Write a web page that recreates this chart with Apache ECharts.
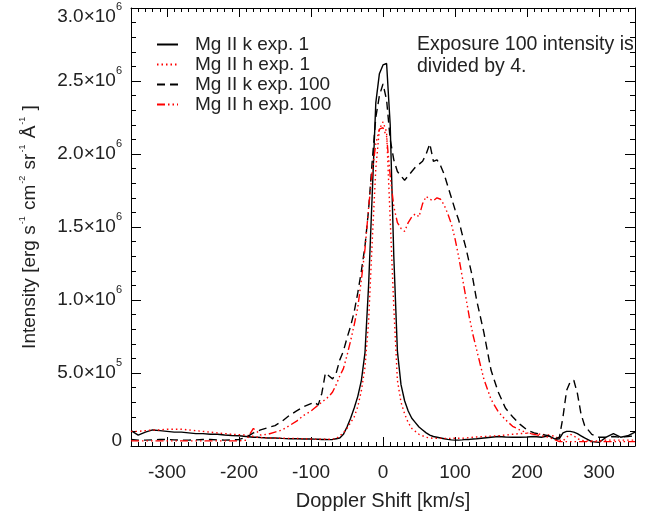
<!DOCTYPE html>
<html>
<head>
<meta charset="utf-8">
<script src="https://cdn.jsdelivr.net/npm/echarts@6/dist/echarts.min.js"></script>
<style>html,body{margin:0;padding:0;background:#fff}#c{width:651px;height:515px}</style>
</head>
<body>
<div id="c"></div>
<script>
// Doppler shift grid (km/s)
var shift = [-350,-340,-330,-320,-310,-300,-290,-280,-270,-260,-250,-240,-230,-220,-210,-200,-190,-180,-175,-170,-160,-150,-140,-130,-120,-110,-100,-95,-90,-85,-80,-75,-70,-65,-60,-55,-50,-45,-40,-35,-30,-25,-20,-15,-10,-5,0,5,10,15,20,25,30,35,40,45,50,55,60,65,70,75,80,85,90,95,100,105,110,115,120,125,130,140,150,160,170,180,190,200,210,220,230,240,245,250,255,260,265,270,275,280,290,300,310,320,330,340,350];

// Intensities in units of 10^6 erg s^-1 cm^-2 sr^-1 A^-1
var mgKexp1 = [0.105,0.075,0.095,0.11,0.105,0.10,0.095,0.095,0.09,0.085,0.085,0.08,0.08,0.075,0.072,0.07,0.065,0.06,0.06,0.058,0.055,0.055,0.052,0.05,0.05,0.048,0.048,0.047,0.046,0.045,0.045,0.044,0.045,0.05,0.055,0.08,0.13,0.19,0.26,0.34,0.45,0.64,1.10,1.72,2.35,2.55,2.61,2.62,2.20,1.30,0.65,0.42,0.31,0.24,0.19,0.16,0.13,0.11,0.09,0.075,0.065,0.06,0.055,0.05,0.045,0.042,0.04,0.04,0.042,0.045,0.045,0.048,0.05,0.055,0.06,0.065,0.062,0.06,0.06,0.062,0.065,0.06,0.07,0.045,0.05,0.09,0.10,0.10,0.095,0.085,0.07,0.055,0.03,0.025,0.06,0.085,0.06,0.07,0.095];

var mgHexp1 = [0.10,0.10,0.105,0.11,0.11,0.115,0.115,0.115,0.11,0.105,0.10,0.095,0.09,0.085,0.08,0.078,0.075,0.065,0.06,0.058,0.055,0.055,0.053,0.052,0.052,0.05,0.048,0.047,0.046,0.046,0.046,0.046,0.047,0.05,0.07,0.09,0.12,0.16,0.20,0.27,0.38,0.54,0.85,1.40,1.90,2.17,2.22,2.15,1.55,0.95,0.45,0.30,0.22,0.16,0.12,0.10,0.08,0.07,0.06,0.055,0.053,0.052,0.052,0.052,0.052,0.052,0.053,0.053,0.053,0.055,0.058,0.06,0.062,0.065,0.068,0.07,0.075,0.08,0.085,0.087,0.085,0.08,0.075,0.065,0.04,0.035,0.06,0.08,0.07,0.05,0.04,0.035,0.035,0.035,0.04,0.04,0.04,0.04,0.04];

var mgKexp100 = [0.045,0.04,0.04,0.042,0.045,0.045,0.042,0.04,0.04,0.042,0.045,0.045,0.042,0.04,0.042,0.045,0.06,0.09,0.10,0.11,0.125,0.14,0.17,0.21,0.24,0.27,0.29,0.30,0.28,0.36,0.50,0.48,0.46,0.50,0.59,0.65,0.74,0.82,0.92,1.05,1.20,1.37,1.62,1.95,2.25,2.40,2.48,2.37,2.10,1.96,1.88,1.85,1.82,1.85,1.88,1.91,1.93,1.95,2.00,2.07,1.95,1.96,1.92,1.86,1.78,1.70,1.62,1.55,1.45,1.36,1.25,1.14,1.00,0.78,0.52,0.37,0.26,0.20,0.15,0.11,0.09,0.08,0.07,0.05,0.06,0.20,0.38,0.44,0.45,0.36,0.22,0.14,0.08,0.06,0.06,0.065,0.06,0.065,0.07];

var mgHexp100 = [0.035,0.035,0.035,0.035,0.035,0.035,0.035,0.035,0.035,0.035,0.035,0.035,0.035,0.035,0.035,0.035,0.04,0.12,0.10,0.075,0.08,0.095,0.11,0.14,0.17,0.21,0.24,0.26,0.28,0.30,0.32,0.34,0.37,0.42,0.48,0.53,0.62,0.72,0.83,0.95,1.14,1.35,1.63,1.88,2.07,2.17,2.18,2.12,1.85,1.64,1.53,1.49,1.47,1.53,1.57,1.59,1.57,1.66,1.71,1.69,1.68,1.70,1.69,1.65,1.59,1.52,1.42,1.30,1.16,1.02,0.88,0.76,0.66,0.46,0.32,0.235,0.18,0.135,0.11,0.09,0.08,0.07,0.06,0.04,0.03,0.03,0.03,0.03,0.03,0.03,0.03,0.03,0.03,0.03,0.03,0.03,0.03,0.03,0.03];

var seriesNames = ['Mg II k exp. 1', 'Mg II h exp. 1', 'Mg II k exp. 100', 'Mg II h exp. 100'];
var xMajorTicks = [-300,-200,-100,0,100,200,300];
var xMinorTicks = [-350,-340,-330,-320,-310,-300,-290,-280,-270,-260,-250,-240,-230,-220,-210,-200,-190,-180,-170,-160,-150,-140,-130,-120,-110,-100,-90,-80,-70,-60,-50,-40,-30,-20,-10,0,10,20,30,40,50,60,70,80,90,100,110,120,130,140,150,160,170,180,190,200,210,220,230,240,250,260,270,280,290,300,310,320,330,340,350];
var annotation = 'Exposure 100 intensity is\ndivided by 4.';

var FONT = 'Liberation Sans';
var TXT = '#222';

function pairs(v){ return shift.map(function(x,i){ return [x, v[i]]; }); }

function yFmt(v){
  if (v === 0) return '{z|0}';
  var top = Math.abs(v - 3) < 1e-9;
  var b = top ? 'bT' : 'b', s = top ? 'sT' : 's';
  if (v >= 1) return '{' + b + '|' + v.toFixed(1) + '×10}{' + s + '|6}';
  return '{' + b + '|' + (v*10).toFixed(1) + '×10}{' + s + '|5}';
}

var lineBase = {show:true, onZero:false, lineStyle:{color:'#000', width:1}};
function xAx(pos, ticks, len, opts){
  var a = {
    type:'value', position:pos, min:-350, max:350, gridIndex:0,
    axisLine: opts.line ? lineBase : {show:false, onZero:false},
    axisTick:{show:true, inside:true, length:len, customValues:ticks, lineStyle:{color:'#000', width:1}},
    axisLabel:{show:false},
    splitLine:{show:false}
  };
  if (opts.labels){
    a.axisLabel = {show:true, customValues:xMajorTicks, color:TXT, fontSize:19, fontFamily:FONT, margin:17};
    a.name = 'Doppler Shift [km/s]';
    a.nameLocation = 'middle';
    a.nameGap = 45;
    a.nameTextStyle = {color:TXT, fontSize:20, fontFamily:FONT};
  }
  return a;
}
function tok(size, lh, pad){
  return {color:TXT, fontFamily:FONT, fontSize:size, lineHeight:lh, padding:pad, verticalAlign:'middle'};
}
function yAx(pos, labels){
  var a = {
    type:'value', position:pos, min:0, max:3, interval:0.5,
    axisLine: lineBase,
    axisTick:{show:true, inside:true, length:10, lineStyle:{color:'#000'}},
    minorTick:{show:true, splitNumber:5, length:5, lineStyle:{color:'#000'}},
    axisLabel:{show:false},
    splitLine:{show:false}, minorSplitLine:{show:false}
  };
  if (labels){
    a.axisLabel = {show:true, margin:9, formatter:yFmt, verticalAlign:'middle',
      rich:{
        b: tok(19, 20, [0,0,0,0]),
        s: tok(11, 12, [0,0,21,0]),
        bT: tok(19, 20, [18,0,0,0]),
        sT: tok(11, 12, [0,0,3,0]),
        z: tok(19, 20, [0,0,10,0])
      }};
    a.name = '{t|Intensity [erg s}{s|-1}{t| cm}{s|-2}{t| sr}{s|-1}{t| Å}{s|-1}{t| ]}';
    a.nameLocation = 'middle';
    a.nameGap = 90;
    a.nameTextStyle = {rich:{ t:{color:TXT, fontSize:19, fontFamily:FONT}, s:{color:TXT, fontSize:9, fontFamily:FONT, padding:[0,1,14,1]} }};
  }
  return a;
}

var chart = echarts.init(document.getElementById('c'), null, {renderer:'canvas'});
chart.setOption({
  animation:false,
  backgroundColor:'#fff',
  grid:{left:131, right:16, top:8, bottom:69, containLabel:false, outerBoundsMode:'none'},
  legend:{
    orient:'vertical', left:156, top:35, padding:0, itemWidth:21, itemHeight:14, itemGap:1,
    itemStyle:{opacity:0},
    textStyle:{color:TXT, fontSize:19, fontFamily:FONT, lineHeight:18, padding:[0,0,0,12]},
    data:seriesNames
  },
  graphic:[{type:'text', left:417, top:34, style:{text:annotation, fill:TXT, font:'19.5px "Liberation Sans"', lineHeight:22}}],
  xAxis:[
    xAx('bottom', xMajorTicks, 9, {line:true, labels:true}),
    xAx('bottom', xMinorTicks, 4, {}),
    xAx('top', xMajorTicks, 9, {line:true}),
    xAx('top', xMinorTicks, 4, {})
  ],
  yAxis:[ yAx('left', true), yAx('right', false) ],
  series:[
    {name:seriesNames[0], type:'line', data:pairs(mgKexp1), symbol:'none', xAxisIndex:0, yAxisIndex:0,
     lineStyle:{color:'#000', width:1.4, type:'solid'}, itemStyle:{color:'#000'}},
    {name:seriesNames[1], type:'line', data:pairs(mgHexp1), symbol:'none', xAxisIndex:0, yAxisIndex:0,
     lineStyle:{color:'#ff0000', width:1.4, type:[1.5,3]}, itemStyle:{color:'#ff0000'}},
    {name:seriesNames[2], type:'line', data:pairs(mgKexp100), symbol:'none', xAxisIndex:0, yAxisIndex:0,
     lineStyle:{color:'#000', width:1.4, type:[8,5]}, itemStyle:{color:'#000'}},
    {name:seriesNames[3], type:'line', data:pairs(mgHexp100), symbol:'none', xAxisIndex:0, yAxisIndex:0,
     lineStyle:{color:'#ff0000', width:1.4, type:[8,3,1.5,3,1.5,3,1.5,3]}, itemStyle:{color:'#ff0000'}}
  ]
});
</script>
</body>
</html>
